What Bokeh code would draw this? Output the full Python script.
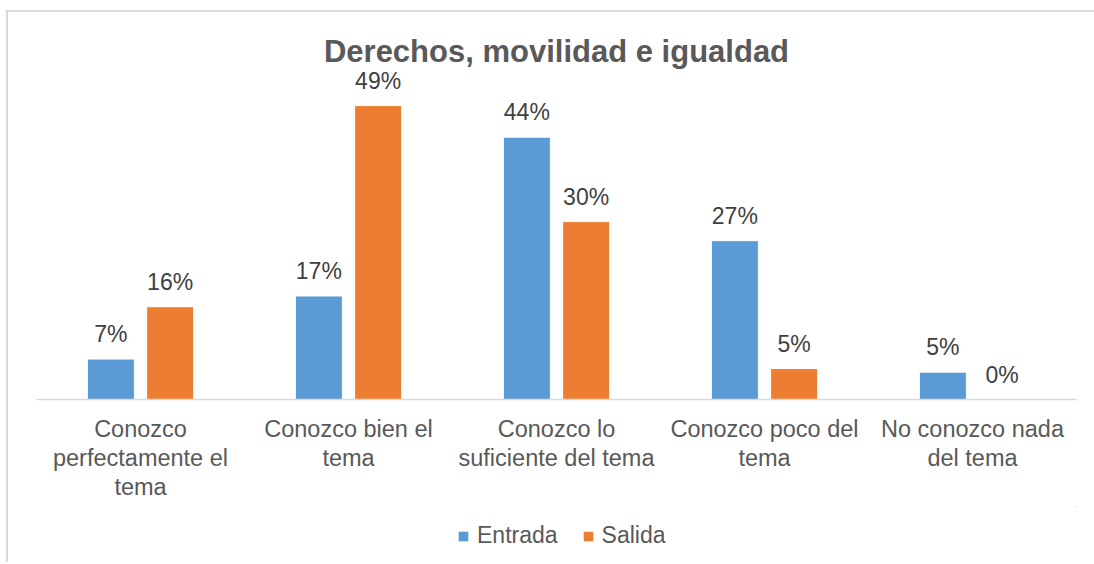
from bokeh.plotting import figure
from bokeh.layouts import column
from bokeh.models import ColumnDataSource, LabelSet, Legend, LegendItem, Range1d, FactorRange
from bokeh.core.properties import value
from bokeh.transform import dodge
from bokeh.embed import file_html
from bokeh.resources import INLINE

title_text = "Derechos, movilidad e igualdad"
categories = [
    "Conozco\nperfectamente el\ntema",
    "Conozco bien el\ntema",
    "Conozco lo\nsuficiente del tema",
    "Conozco poco del\ntema",
    "No conozco nada\ndel tema",
]
series_names = ["Entrada", "Salida"]
entrada = [6.8, 17.4, 44.1, 26.7, 4.6]
salida = [15.6, 49.4, 29.9, 5.2, 0.0]
entrada_labels = ["7%", "17%", "44%", "27%", "5%"]
salida_labels = ["16%", "49%", "30%", "5%", "0%"]

BLUE = "#5B9BD5"
ORANGE = "#ED7D31"
FONT = "Liberation Sans"

src = ColumnDataSource(dict(
    cats=categories,
    entrada=entrada,
    salida=salida,
    el=entrada_labels,
    sl=salida_labels,
))

p = figure(
    x_range=FactorRange(*categories, range_padding=0),
    y_range=Range1d(0, 55.3),
    width=1086, height=494,
    output_backend="svg", toolbar_location=None,
    y_axis_location=None,
    min_border_left=28, min_border_right=18,
    min_border_top=58, min_border_bottom=107,
)
p.outline_line_color = None
p.xgrid.grid_line_color = None
p.ygrid.grid_line_color = None

p.title.text = title_text
p.title.align = "center"
p.title.text_font = FONT
p.title.text_font_size = "31px"
p.title.text_font_style = "bold"
p.title.text_color = "#595959"
p.title.standoff = 4

off = 0.1425
bw = 0.226
p.vbar(x=dodge("cats", -off, range=p.x_range), top="entrada", width=bw,
       source=src, fill_color=BLUE, line_color="white", line_width=1)
p.vbar(x=dodge("cats", off, range=p.x_range), top="salida", width=bw,
       source=src, fill_color=ORANGE, line_color="white", line_width=1)

for xo, col, txt in [(-off, "entrada", "el"), (off, "salida", "sl")]:
    p.add_layout(LabelSet(
        x=dodge("cats", xo, range=p.x_range), y=col, text=txt, source=src,
        text_align="center", text_baseline="alphabetic", y_offset=17,
        text_font=value(FONT), text_font_size=value("23px"), text_color="#404040",
    ))

ax = p.xaxis[0]
ax.major_label_text_font = FONT
ax.major_label_text_font_size = "23.5px"
ax.major_label_text_color = "#595959"
ax.major_label_text_line_height = 1.12
ax.major_tick_line_color = None
ax.minor_tick_line_color = None
ax.major_label_standoff = 10
ax.axis_line_color = "#D9D9D9"
ax.axis_line_width = 1.5

# legend strip underneath the chart (its bars lie outside its view; only the swatches show)
lg = figure(width=1086, height=56, output_backend="svg", toolbar_location=None,
            x_axis_location=None, y_axis_location=None,
            min_border=0, x_range=FactorRange(*categories), y_range=Range1d(-2, -1))
lg.outline_line_color = None
lg.xgrid.grid_line_color = None
lg.ygrid.grid_line_color = None
g1 = lg.vbar(x=dodge("cats", 50, range=lg.x_range), top="entrada", width=0.2,
             source=src, fill_color=BLUE, line_color=None)
g2 = lg.vbar(x=dodge("cats", 50, range=lg.x_range), top="salida", width=0.2,
             source=src, fill_color=ORANGE, line_color=None)
legend = Legend(
    items=[LegendItem(label=series_names[0], renderers=[g1]),
           LegendItem(label=series_names[1], renderers=[g2])],
    orientation="horizontal", location=(421, 13),
    label_text_font=FONT, label_text_font_size="23px", label_text_color="#595959",
    glyph_width=12, glyph_height=12, label_standoff=8, spacing=24,
    border_line_color=None, background_fill_alpha=0, margin=0, padding=0,
)
lg.add_layout(legend, "center")

layout = column(p, lg, spacing=0)
layout.styles = {
    "border-left": "2px solid #D9D9D9",
    "border-top": "2px solid #D9D9D9",
    "margin-left": "6px",
    "margin-top": "10px",
}

open("out.html", "w").write(file_html(layout, INLINE))
